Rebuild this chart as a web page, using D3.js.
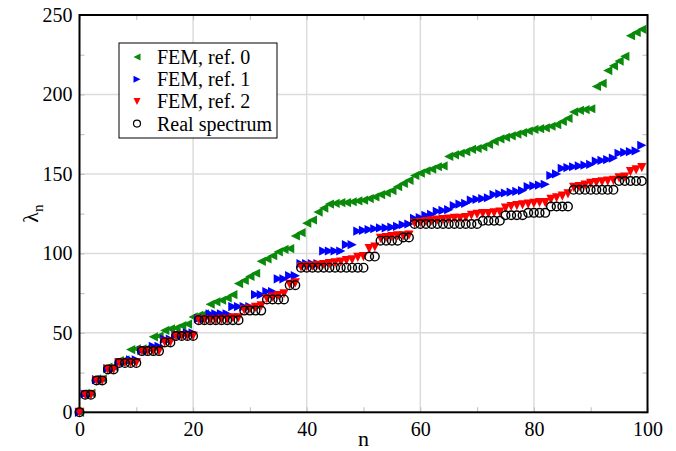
<!DOCTYPE html>
<html><head><meta charset="utf-8">
<script src="https://cdn.jsdelivr.net/npm/d3@7"></script>
<style>body{margin:0;background:#fff}svg{display:block}</style>
</head><body>
<svg id="c" width="676" height="451"></svg>
<script>
const nValues = d3.range(0, 100);
const fem0 = [0,12,12,21,21,28.5,28.5,32.5,33,39.5,40,40,40.5,47.5,48,51.5,52.5,53,54.5,55.5,
60,61,62,68,69.5,70.5,72,74,81,83,85.5,87.5,95,96.5,98.5,101,102.5,103,111,113,
119,121,126,128.5,131,131.5,132,132,132.5,133,133.5,134.5,135.5,137,138,139.5,142,144,146,149,
150.5,152,153,154.5,155,161,162,163,164,165.5,166,167,168.5,170.5,172,173,174,175,176,177,
178,178.5,179,180,181,183,185,189,190,190.5,191,205,207,215,218,221,224,237,239,241];
const fem1 = [0,11.5,11.5,20.5,20.5,27.5,27.5,31.5,31.5,33,33,39,39,41.5,41.5,46,46,48.5,48.5,50,
50,59,59,62,62,62,62,66.5,66.5,66.5,66.5,74,74,76,76,84,84,86,86,93.5,
93.5,93.5,93.5,101.5,101.5,101.5,101.5,105.5,105.5,114,114.5,115,115.5,116,116,116.5,117,118,118.5,122,
122.5,124,124.5,126.5,127,127.5,130,131,131.5,133.5,134,134.5,135,137,137.5,138,138.5,139,139.5,142,
142.5,143,143.5,149,150,153.5,154,154.5,155,155.5,156,158,158.5,159,160,163,163.5,164,164.5,168];
const fem2 = [0,11,11,20,20,27,27,31.2,31.2,31.2,31.2,38.5,38.5,38.5,38.5,44.2,44.2,48,48,48,
48,58.2,58.2,58.2,58.2,58.5,58.5,59.5,59.5,64.5,65,66,67,71.5,72.5,73.5,74.5,80.5,81.5,91.5,
91.8,92,92.5,93,93.5,94,94.5,95.5,96,97.5,98,103,104,109.5,110,110.5,111,111,111.5,119,
119.5,120,120.5,121,121.2,121.5,122,122,122.5,124,124.5,125,125,125.5,126,128.5,129.5,130,130.5,131,
131.5,132,132,134,135,136,137.5,141.5,142,143,144,144.5,145,145.5,146,147.5,148,151.5,152.5,154];
const realSpec = [0,11,11,20,20,27,27,31,31,31,31,38.5,38.5,38.5,38.5,44,44,48,48,48,
48,58,58,58,58,58,58,58,58,64,64,64,64,71,71,71,71,80,80,91,
91,91,91,91,91,91,91,91,91,91,91,98,98,108,108,108,108,110,110,118.5,
118.5,118.5,118.5,118.5,118.5,118.5,118.5,118.5,118.5,118.5,118.5,120.5,120.5,120.5,120.5,124,124,124,124,125.5,
125.5,125.5,125.5,129.5,129.5,129.5,129.5,140,140,140,140,140,140,140,140,145.5,145.5,145.5,145.5,145.5];
const xTicks = [0,20,40,60,80,100];
const yTicks = [0,50,100,150,200,250];
const seriesNames = ["FEM, ref. 0","FEM, ref. 1","FEM, ref. 2","Real spectrum"];

const svg = d3.select("#c");
const L = 79.5, R = 647.5, T = 15, B = 412.3;
const x = d3.scaleLinear().domain([0,100]).range([L,R]);
const y = d3.scaleLinear().domain([0,250]).range([B,T]);
const font = "'Liberation Serif','Times New Roman',serif";

// grid
const g = svg.append("g");
g.selectAll("line.gx").data(xTicks.slice(1,-1)).join("line")
  .attr("x1",d=>x(d)).attr("x2",d=>x(d)).attr("y1",T).attr("y2",B)
  .attr("stroke","#dcdcdc").attr("stroke-width",1.5);
g.selectAll("line.gy").data(yTicks.slice(1,-1)).join("line")
  .attr("x1",L).attr("x2",R).attr("y1",d=>y(d)).attr("y2",d=>y(d))
  .attr("stroke","#dcdcdc").attr("stroke-width",1.5);

// axes with inward ticks
const xMinor = d3.range(0,101,10), yMinor = d3.range(0,251,25);
const ax = svg.append("g").attr("transform",`translate(0,${B})`)
  .call(d3.axisBottom(x).tickValues(xMinor).tickSize(-5).tickFormat(d=>d%20===0?d:"").tickPadding(9));
const axT = svg.append("g").attr("transform",`translate(0,${T})`)
  .call(d3.axisTop(x).tickValues(xMinor).tickSize(-5).tickFormat(""));
const ay = svg.append("g").attr("transform",`translate(${L},0)`)
  .call(d3.axisLeft(y).tickValues(yMinor).tickSize(-5).tickFormat(d=>d%50===0?d:"").tickPadding(7));
const ayR = svg.append("g").attr("transform",`translate(${R},0)`)
  .call(d3.axisRight(y).tickValues(yMinor).tickSize(-5).tickFormat(""));
[ax,axT,ay,ayR].forEach(a=>{
  a.select(".domain").remove();
  a.selectAll(".tick line").attr("stroke","#bbb").attr("stroke-width",1);
  a.selectAll("text").attr("font-family",font).attr("font-size",20).attr("fill","#000");
});
ax.selectAll("text").attr("dy","0.75em");
svg.append("rect").attr("x",L).attr("y",T).attr("width",R-L).attr("height",B-T)
  .attr("fill","none").attr("stroke","#000").attr("stroke-width",2);

// markers
const s = 4.6;
const triLeft = `M${-s},0L${s},${-s}L${s},${s}Z`;
const triRight = `M${s},0L${-s},${-s}L${-s},${s}Z`;
const triDown = `M0,${s}L${-s},${-s}L${s},${-s}Z`;
const series = [
  {vals: fem0, path: triLeft, color: "#0a8a0a"},
  {vals: fem1, path: triRight, color: "#0000ff"},
  {vals: fem2, path: triDown, color: "#ff0000"}
];
const plot = svg.append("g");
series.forEach(sr=>{
  plot.selectAll(null).data(nValues).join("path")
    .attr("d",sr.path).attr("fill",sr.color)
    .attr("transform",d=>`translate(${x(d)},${y(sr.vals[d])})`);
});
plot.selectAll(null).data(nValues).join("circle")
  .attr("cx",d=>x(d)).attr("cy",d=>y(realSpec[d])).attr("r",4.3)
  .attr("fill","none").attr("stroke","#000").attr("stroke-width",1.4);

// legend
const lg = svg.append("g");
lg.append("rect").attr("x",119).attr("y",43).attr("width",158).attr("height",95)
  .attr("fill","#fff").attr("stroke","#000").attr("stroke-width",1);
const ls = 3.5;
const legPaths = [`M${-ls},0L${ls},${-ls}L${ls},${ls}Z`,`M${ls},0L${-ls},${-ls}L${-ls},${ls}Z`,`M0,${ls}L${-ls},${-ls}L${ls},${-ls}Z`];
const legColors = ["#0a8a0a","#0000ff","#ff0000"];
seriesNames.forEach((nm,i)=>{
  const cy = 57 + i*22.2;
  if(i<3) lg.append("path").attr("d",legPaths[i]).attr("fill",legColors[i]).attr("transform",`translate(137,${cy})`);
  else lg.append("circle").attr("cx",137).attr("cy",cy).attr("r",3.5).attr("fill","none").attr("stroke","#000").attr("stroke-width",1.2);
  lg.append("text").attr("x",157).attr("y",cy).attr("dy","0.35em").attr("font-family",font).attr("font-size",20).text(nm);
});

// axis labels
svg.append("text").attr("x",x(50)).attr("y",446).attr("text-anchor","middle")
  .attr("font-family",font).attr("font-size",22).text("n");
const yl = svg.append("text").attr("transform",`translate(38,${(T+B)/2}) rotate(-90)`)
  .attr("text-anchor","middle").attr("font-family",font).attr("font-size",22);
yl.append("tspan").text("λ");
yl.append("tspan").attr("font-size",15).attr("dy",5).text("n");
</script>
</body></html>
